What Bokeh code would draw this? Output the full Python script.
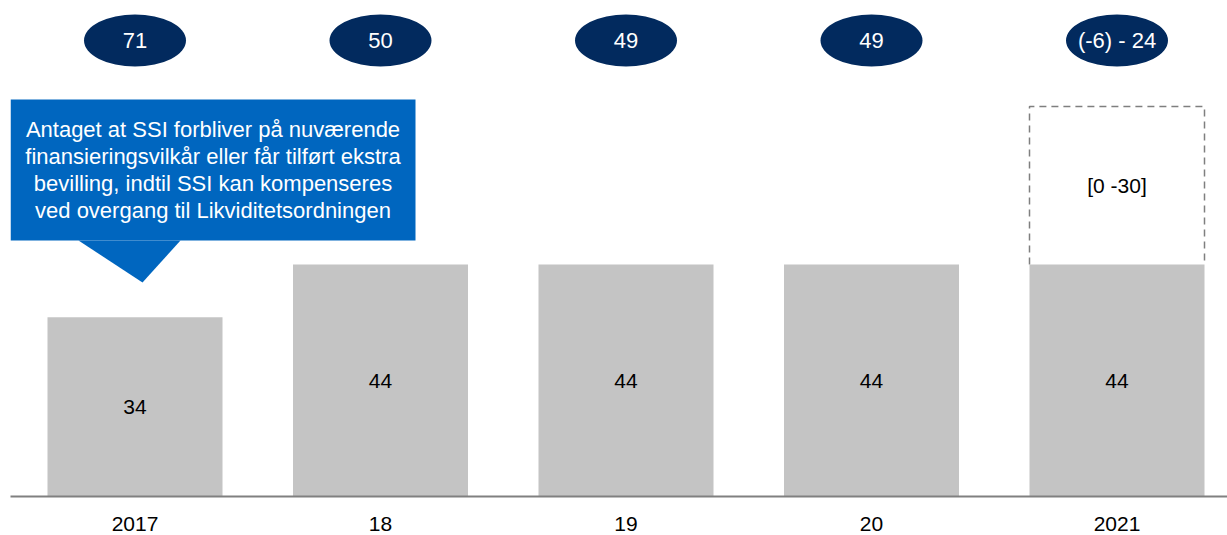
from bokeh.plotting import figure
from bokeh.models import Range1d, LinearAxis, FixedTicker, ColumnDataSource
from bokeh.core.properties import value
from bokeh.embed import file_html
from bokeh.resources import INLINE

# ---- data ----
years = ["2017", "18", "19", "20", "2021"]
base_values = [34, 44, 44, 44, 44]
total_labels = ["71", "50", "49", "49", "(-6) - 24"]
range_year_index = [4]
range_low = [0]
range_high = [30]
range_labels = ["[0 -30]"]
callout_text = ("Antaget at SSI forbliver på nuværende\n"
                "finansieringsvilkår eller får tilført ekstra\n"
                "bevilling, indtil SSI kan kompenseres\n"
                "ved overgang til Likviditetsordningen")

FONT = "Liberation Sans"
W, H = 1227, 535
FRAME_LEFT, FRAME_BOTTOM = 10, 496
XUNIT, YUNIT = 245.5, 5.27
X0PX = 134.5

x_start = -(X0PX - FRAME_LEFT) / XUNIT
x_end = x_start + (W - FRAME_LEFT) / XUNIT
y_end = FRAME_BOTTOM / YUNIT

def xd(px):
    return x_start + (px - FRAME_LEFT) / XUNIT

def yd(py):
    return (FRAME_BOTTOM - py) / YUNIT

p = figure(width=W, height=H, output_backend="svg", toolbar_location=None,
           x_range=Range1d(x_start, x_end), y_range=Range1d(0, y_end),
           x_axis_location=None, y_axis_location=None,
           min_border_left=FRAME_LEFT, min_border_right=0, min_border_top=0,
           min_border_bottom=H - FRAME_BOTTOM)
p.outline_line_color = None
p.xgrid.visible = False
p.ygrid.visible = False
p.background_fill_color = "white"
p.border_fill_color = "white"

xs = list(range(len(years)))
bw = 175 / XUNIT

src = ColumnDataSource(dict(x=xs, top=base_values, mid=[v / 2 for v in base_values],
                            lab=[str(v) for v in base_values]))

# dashed range box (2021): left, top and right sides
rx = [xs[i] for i in range_year_index]
rb = [base_values[i] + lo for i, lo in zip(range_year_index, range_low)]
rt = [base_values[i] + hi for i, hi in zip(range_year_index, range_high)]
p.multi_line(xs=[[x - bw / 2, x - bw / 2, x + bw / 2, x + bw / 2] for x in rx],
             ys=[[b, t, t, b] for b, t in zip(rb, rt)],
             line_color="#7f7f7f", line_width=1.5, line_dash="7 5")
p.text(x=rx, y=[(b + t) / 2 for b, t in zip(rb, rt)], text=range_labels,
       text_font=value(FONT), text_font_size="21px", text_color="black",
       text_align="center", text_baseline="middle")

# bars
p.vbar(x="x", top="top", bottom=0, width=bw, source=src, fill_color="#c4c4c4", line_color=None)
p.text(x="x", y="mid", text="lab", source=src, text_font=value(FONT), text_font_size="21px",
       text_color="black", text_align="center", text_baseline="middle")

# total ellipses
ey = [yd(40)] * len(years)
p.ellipse(x=xs, y=ey, width=102, height=52, width_units="screen", height_units="screen",
          fill_color="#022a5e", line_color=None)
p.text(x=xs, y=ey, text=total_labels, text_font=value(FONT), text_font_size="22px",
       text_color="white", text_align="center", text_baseline="middle")

# callout
p.quad(left=[xd(10)], right=[xd(415)], top=[yd(99)], bottom=[yd(240)],
       fill_color="#0066bf", line_color=None)
p.patch(x=[xd(78), xd(180), xd(142)], y=[yd(240), yd(240), yd(282)],
        fill_color="#0066bf", line_color=None)
p.text(x=[xd(212.5)], y=[yd(169.5)], text=[callout_text], text_font=value(FONT),
       text_font_size="22px", text_color="white", text_align="center",
       text_baseline="middle", text_line_height=1.08)

# x axis
ax = LinearAxis(ticker=FixedTicker(ticks=xs),
                major_label_overrides={i: y for i, y in enumerate(years)})
ax.axis_line_color = "#808080"
ax.axis_line_width = 2
ax.major_tick_line_color = None
ax.minor_tick_line_color = None
ax.major_tick_in = 0
ax.major_tick_out = 0
ax.major_label_standoff = 20
ax.major_label_text_font = FONT
ax.major_label_text_font_size = "21px"
ax.major_label_text_color = "black"
p.add_layout(ax, "below")

open("out.html", "w").write(file_html(p, INLINE))
